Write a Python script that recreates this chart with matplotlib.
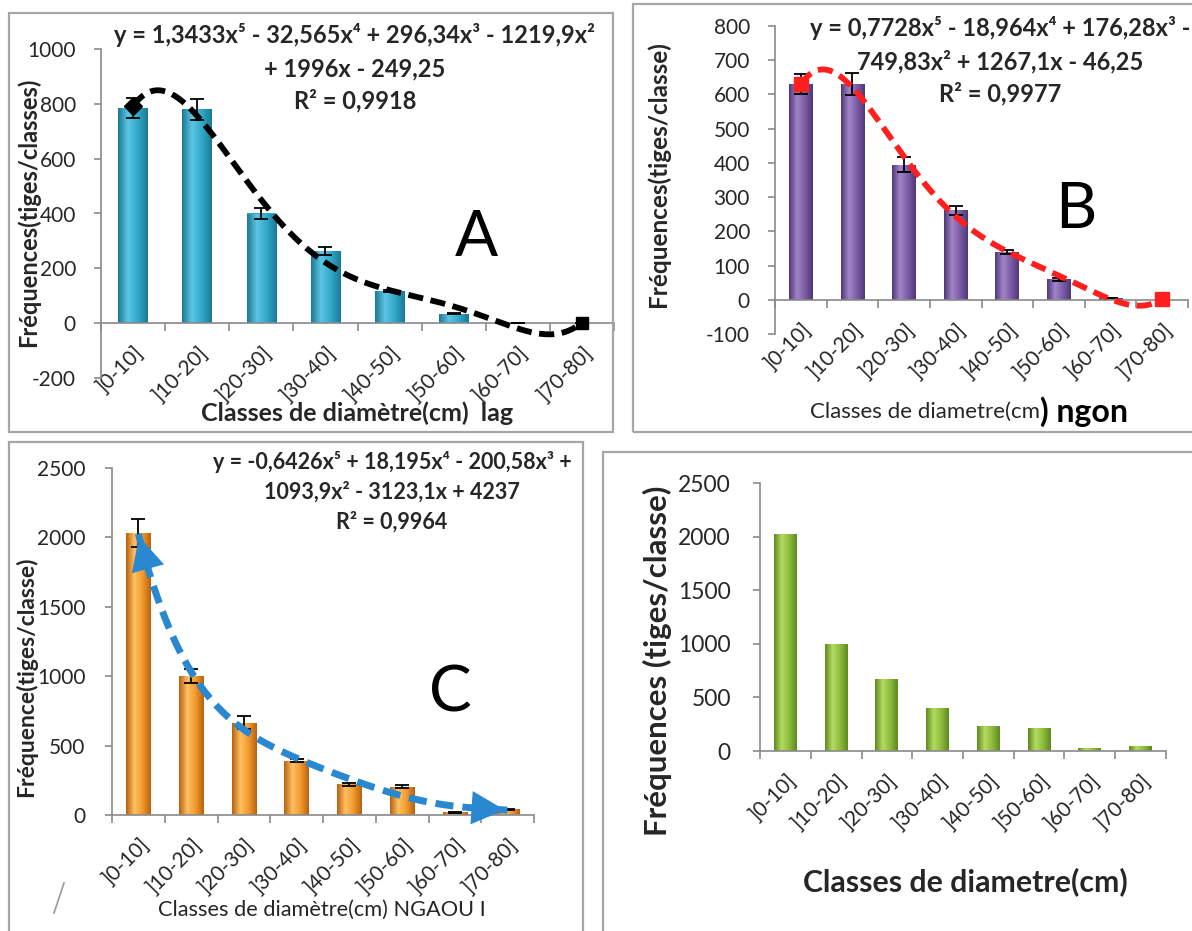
# -*- coding: utf-8 -*-
import numpy as np
import matplotlib
matplotlib.use('Agg')
import matplotlib.pyplot as plt
from matplotlib.colors import LinearSegmentedColormap
from matplotlib.patches import Rectangle
from matplotlib.lines import Line2D

plt.rcParams['font.family'] = ['Lato', 'DejaVu Sans']

W, H = 1192, 931

classes = [']0-10]', ']10-20]', ']20-30]', ']30-40]',
           ']40-50]', ']50-60]', ']60-70]', ']70-80]']

# panel A (lag)
freq_a = [785, 780, 400, 262, 118, 35, 0, 0]
err_a = [35, 38, 20, 15, 4, 3, 0, 0]
poly_a = [1.3433, -32.565, 296.34, -1219.9, 1996, -249.25]

# panel B (ngon)
freq_b = [630, 630, 395, 262, 140, 60, 4, 0]
err_b = [30, 33, 22, 13, 6, 5, 0, 0]
poly_b = [0.7728, -18.964, 176.28, -749.83, 1267.1, -46.25]

# panel C (NGAOU I)
freq_c = [2030, 1000, 665, 390, 220, 205, 20, 40]
err_c = [100, 50, 45, 10, 10, 10, 5, 5]
poly_c = [-0.6426, 18.195, -200.58, 1093.9, -3123.1, 4237]

# panel D
freq_d = [2025, 1000, 675, 400, 230, 210, 30, 50]

fig = plt.figure(figsize=(W / 100, H / 100), dpi=100)

GRAY = '#8a8a8a'
TXT = '#262626'


def fx(x):
    return x / W


def fy(y):
    return 1 - y / H


def box(l, t, r, b):
    fig.patches.append(Rectangle((fx(l), fy(b)), fx(r - l), (b - t) / H,
                                 transform=fig.transFigure, fill=False,
                                 edgecolor='#a6a6a6', lw=1.6))


def make_ax(l, t, r, b, ylim, yticks, fs_tick, fs_xt, ypad=13, xpad=14):
    ax = fig.add_axes([fx(l), fy(b), (r - l) / W, (b - t) / H])
    ax.set_facecolor('none')
    ax.set_xlim(-0.5, 7.5)
    ax.set_ylim(*ylim)
    for s in ['top', 'right']:
        ax.spines[s].set_visible(False)
    for s in ['left', 'bottom']:
        ax.spines[s].set_color(GRAY)
        ax.spines[s].set_linewidth(1.2)
    ax.spines['bottom'].set_position(('data', 0))
    ax.set_yticks(yticks)
    ax.set_yticklabels([str(v) for v in yticks], fontsize=fs_tick, color=TXT)
    ax.tick_params(axis='y', length=5, color=GRAY, width=1.2, pad=ypad)
    ax.set_xticks(np.arange(-0.5, 8, 1))
    ax.set_xticklabels([''] * 9)
    ax.tick_params(axis='x', which='major', length=6, color=GRAY, width=1.2)
    ax.set_xticks(range(8), minor=True)
    ax.set_xticklabels(classes, minor=True, rotation=45, ha='right',
                       rotation_mode='anchor', fontsize=fs_xt, color=TXT)
    ax.tick_params(axis='x', which='minor', length=0, pad=xpad)
    return ax


def bars(ax, vals, base, dark, light, width=0.46, err=None):
    bc = ax.bar(range(8), vals, width=width, color=base, zorder=2,
                edgecolor='none')
    cmap = LinearSegmentedColormap.from_list('g', [dark, light, base, dark])
    grad = np.linspace(0, 1, 64).reshape(1, -1)
    for p in bc.patches:
        x0 = p.get_x()
        h = p.get_height()
        if h <= 0:
            continue
        im = ax.imshow(grad, cmap=cmap, aspect='auto', zorder=2.1,
                       extent=(x0, x0 + p.get_width(), 0, h))
        im.set_clip_path(p)
    if err is not None:
        ax.errorbar(range(8), vals, yerr=err, fmt='none', ecolor='black',
                    elinewidth=1.3, capsize=5, capthick=1.3, zorder=3)
    ax.set_xlim(-0.5, 7.5)


def trend(ax, coefs, color, lw=4.2):
    xs = np.linspace(1, 8, 300)
    ys = np.polyval(coefs, xs)
    ax.plot(xs - 1, ys, color=color, lw=lw, ls=(0, (2.6, 1.3)),
            zorder=4, dash_capstyle='butt')
    return xs - 1, ys


# ---------------- A ----------------
box(9, 13, 613, 432)
axA = make_ax(101, 49, 614, 378, (-200, 1000), list(range(-200, 1001, 200)),
              15, 15)
bars(axA, freq_a, '#2fa8c9', '#1b7a95', '#5cc6e4', err=err_a)
xa, ya = trend(axA, poly_a, 'black')
axA.plot(xa[0], ya[0], 'D', color='black', ms=9, zorder=5)
axA.plot(xa[-1], ya[-1], 's', color='black', ms=9, zorder=5)
axA.set_ylim(-200, 1000)
fig.text(fx(28), fy(212), 'Fréquences(tiges/classes)', rotation=90,
         ha='center', va='center', fontsize=17, fontweight='bold', color=TXT)
fig.text(fx(357), fy(413), 'Classes de diamètre(cm)  lag', ha='center',
         va='center', fontsize=18, fontweight='bold', color=TXT)
for t, yy in [('y = 1,3433x⁵ - 32,565x⁴ + 296,34x³ - 1219,9x²', 35),
              ('+ 1996x - 249,25', 69), ('R² = 0,9918', 101)]:
    fig.text(fx(355), fy(yy), t, ha='center', va='center', fontsize=17,
             fontweight='bold', color=TXT)
fig.text(fx(476), fy(238), 'A', ha='center', va='center', fontsize=46,
         color='black')

# ---------------- B ----------------
box(633, 4, 1200, 432)
axB = make_ax(775, 26, 1188, 334, (-100, 800), list(range(-100, 801, 100)),
              15, 15)
bars(axB, freq_b, '#7b5ca6', '#4f3878', '#a285c8', err=err_b)
xb, yb = trend(axB, poly_b, '#ff1f1f')
axB.plot([xb[0], xb[-1]], [yb[0], yb[-1]], 's', color='#ff1f1f', ms=10,
         zorder=5)
axB.set_ylim(-100, 800)
fig.text(fx(658), fy(174), 'Fréquences(tiges/classe)', rotation=90,
         ha='center', va='center', fontsize=17.5, fontweight='bold', color=TXT)
fig.text(fx(1040), fy(412), 'Classes de diametre(cm', ha='right',
         va='center', fontsize=16, color=TXT)
fig.text(fx(1040), fy(412), ') ngon', ha='left', va='center', fontsize=23,
         fontweight='bold', color='black')
for t, yy in [('y = 0,7728x⁵ - 18,964x⁴ + 176,28x³ -', 28),
              ('749,83x² + 1267,1x - 46,25', 62), ('R² = 0,9977', 94)]:
    fig.text(fx(1000), fy(yy), t, ha='center', va='center', fontsize=17,
             fontweight='bold', color=TXT)
fig.text(fx(1076), fy(210), 'B', ha='center', va='center', fontsize=46,
         color='black')

# ---------------- C ----------------
box(9, 442, 583, 940)
axC = make_ax(112, 468, 534, 815, (0, 2500), list(range(0, 2501, 500)),
              15, 15, ypad=14)
bars(axC, freq_c, '#f29a2e', '#b8620f', '#ffc062', err=err_c)
xc, yc = trend(axC, poly_c, '#2a88d0', lw=5)
for i0, i1 in [(0, 6), (-1, -8)]:
    axC.annotate('', xy=(xc[i0], yc[i0]), xytext=(xc[i1], yc[i1]),
                 arrowprops=dict(arrowstyle='-|>,head_width=0.5,head_length=1.0',
                                 color='#2a88d0', lw=0, mutation_scale=24),
                 zorder=5)
axC.set_ylim(0, 2500)
fig.text(fx(26), fy(677), 'Fréquence(tiges/classe)', rotation=90,
         ha='center', va='center', fontsize=16.5, fontweight='bold', color=TXT)
fig.text(fx(322), fy(910), 'Classes de diamètre(cm) NGAOU I', ha='center',
         va='center', fontsize=15.7, color=TXT)
for t, yy in [('y = -0,6426x⁵ + 18,195x⁴ - 200,58x³ +', 462),
              ('1093,9x² - 3123,1x + 4237', 492), ('R² = 0,9964', 522)]:
    fig.text(fx(392), fy(yy), t, ha='center', va='center', fontsize=15.5,
             fontweight='bold', color=TXT)
fig.text(fx(450), fy(693), 'C', ha='center', va='center', fontsize=46,
         color='black')
fig.lines.append(Line2D([fx(54), fx(64)], [fy(913), fy(883)],
                        transform=fig.transFigure, color='#9a9a9a', lw=1.2))

# ---------------- D ----------------
box(603, 452, 1200, 940)
axD = make_ax(760, 483, 1166, 751, (0, 2500), list(range(0, 2501, 500)),
              16.5, 15, ypad=16)
bars(axD, freq_d, '#8dbb3d', '#5f8a1e', '#b4dc62', width=0.45)
axD.set_ylim(0, 2500)
fig.text(fx(657), fy(661), 'Fréquences (tiges/classe)', rotation=90,
         ha='center', va='center', fontsize=22.5, fontweight='bold', color=TXT)
fig.text(fx(965), fy(882), 'Classes de diametre(cm)', ha='center',
         va='center', fontsize=21.8, fontweight='bold', color=TXT)

fig.savefig('out.png', dpi=100, facecolor='white')
